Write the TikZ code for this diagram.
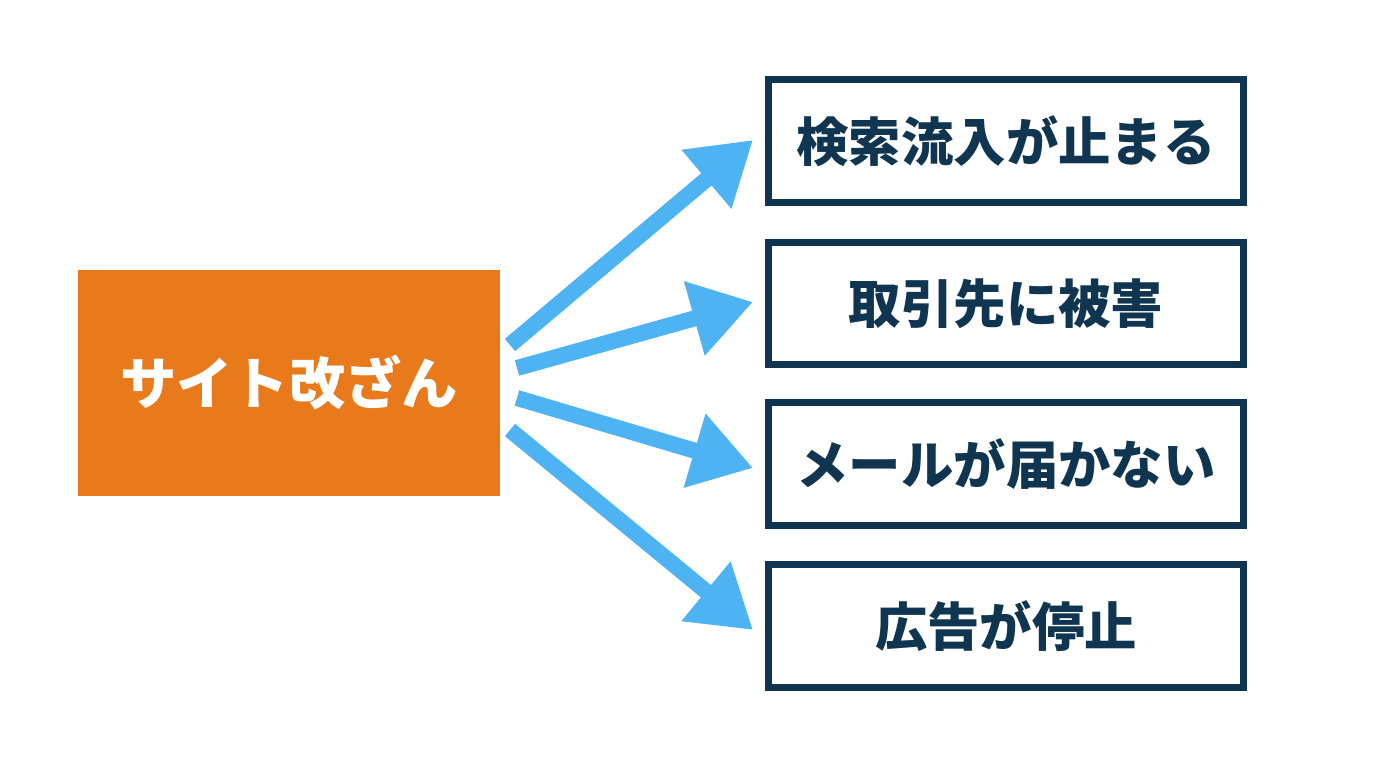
\documentclass[tikz,border=0pt]{standalone}
\usepackage{fontspec}
\newfontfamily\cjk{Noto Sans CJK JP}
\usetikzlibrary{arrows.meta, positioning, calc}
\definecolor{corange}{HTML}{E87A1C}
\definecolor{cblue}{HTML}{4DB3F2}
\definecolor{cnavy}{HTML}{0F3550}
\tikzset{
  every picture/.style={font=\cjk\bfseries},
  src/.style={fill=corange, text=white, minimum width=8.44cm, minimum height=4.52cm, font=\cjk\bfseries\fontsize{32}{38}\selectfont},
  effect/.style={draw=cnavy, line width=0.14cm, fill=white, text=cnavy, minimum width=9.5cm, minimum height=2.46cm, font=\cjk\bfseries\fontsize{29.8}{35}\selectfont},
  arrow/.style={-{Triangle[length=1.22cm, width=1.46cm]}, draw=cblue, line width=0.32cm},
}

\begin{document}
\begin{tikzpicture}[x=0.02cm, y=-0.02cm]
  \useasboundingbox[fill=white] (0,0) rectangle (1376,768);
  \node[src] (kaizan) at (289,383) {サイト改ざん};
  \node[effect] (e1) at (1006,141) {検索流入が止まる};
  \node[effect] (e2) at (1006,303.5) {取引先に被害};
  \node[effect] (e3) at (1006,464) {メールが届かない};
  \node[effect] (e4) at (1006,626) {広告が停止};
  % arrow tails just right of the orange box
  \coordinate (t1) at (510,345);
  \coordinate (t2) at (517,368);
  \coordinate (t3) at (517,398);
  \coordinate (t4) at (510,430);
  \draw[arrow] (t1) -- ($(e1.west)+(-12,-1)$);
  \draw[arrow] (t2) -- ($(e2.west)+(-12,-1.5)$);
  \draw[arrow] (t3) -- ($(e3.west)+(-12,4)$);
  \draw[arrow] (t4) -- ($(e4.west)+(-12,4)$);
\end{tikzpicture}
\end{document}
